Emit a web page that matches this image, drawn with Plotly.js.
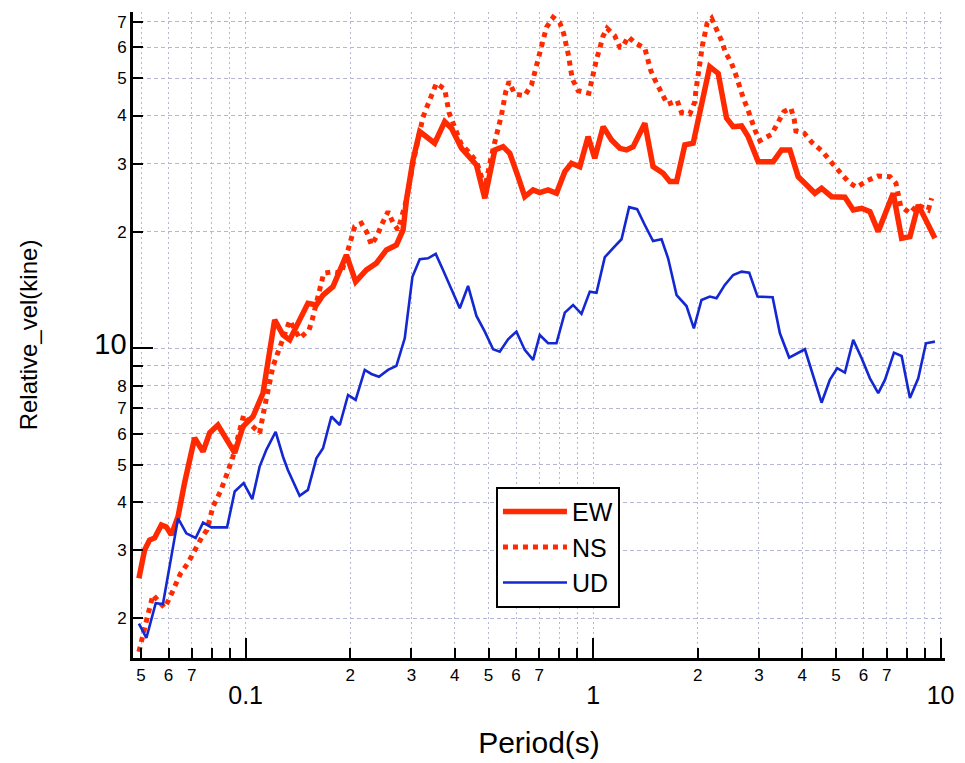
<!DOCTYPE html>
<html><head><meta charset="utf-8">
<script src="https://cdn.plot.ly/plotly-3.0.1.min.js"></script>
<style>html,body{margin:0;padding:0;background:#fff}#chart{width:965px;height:763px}</style>
</head><body><div id="chart"></div>
<script>
const ewPeriod=[0.0493,0.0512,0.0529,0.0547,0.0572,0.0591,0.0611,0.0639,0.0667,0.0698,0.0713,0.0754,0.0788,0.0832,0.0880,0.0930,0.0982,0.1050,0.1122,0.1212,0.1281,0.1339,0.1430,0.1511,0.1598,0.1670,0.1784,0.1950,0.2073,0.2226,0.2377,0.2542,0.2716,0.2838,0.2903,0.3032,0.3170,0.3314,0.3500,0.3741,0.3912,0.4180,0.4367,0.4616,0.4879,0.5212,0.5508,0.5756,0.6082,0.6358,0.6720,0.7024,0.7421,0.7845,0.8290,0.8665,0.9156,0.9674,1.011,1.069,1.130,1.194,1.248,1.304,1.409,1.488,1.591,1.663,1.739,1.837,1.941,2.166,2.291,2.422,2.530,2.675,2.795,2.987,3.298,3.487,3.685,3.893,4.117,4.349,4.546,4.858,5.306,5.607,5.928,6.263,6.617,7.308,7.727,8.164,8.627,9.120,9.636];
const ewVel=[2.54,3.01,3.19,3.23,3.49,3.45,3.29,3.67,4.48,5.46,5.86,5.40,6.04,6.33,5.86,5.36,6.27,6.66,7.66,11.84,10.82,10.51,11.84,13.07,12.94,13.73,14.43,17.43,14.87,15.94,16.59,17.96,18.50,20.23,24.19,30.69,36.34,35.27,33.91,38.56,37.08,32.9,31.62,29.79,24.43,32.58,33.23,31.94,27.79,24.66,25.67,25.26,25.67,25.18,28.63,30.09,29.49,35.27,31.01,37.43,34.56,32.9,32.58,33.23,38.19,29.49,28.36,26.98,26.98,33.57,33.91,53.5,51.4,39.36,37.43,37.58,35.27,30.39,30.39,32.58,32.58,27.79,26.45,25.17,25.94,24.66,24.58,22.79,23.02,22.56,20.03,25.17,19.26,19.44,23.49,21.05,19.26];

const nsPeriod=[0.0493,0.0501,0.0512,0.0520,0.0541,0.0585,0.0607,0.0629,0.0649,0.0682,0.0713,0.0746,0.0774,0.0805,0.0846,0.0870,0.0889,0.0919,0.0950,0.0987,0.1038,0.1097,0.1127,0.1147,0.1159,0.1178,0.1198,0.1231,0.1267,0.1339,0.1430,0.1522,0.1556,0.1644,0.1678,0.1784,0.1886,0.2015,0.2060,0.2153,0.2235,0.2301,0.2387,0.2468,0.2569,0.2655,0.2745,0.2903,0.2986,0.3032,0.3133,0.3239,0.3327,0.3425,0.3540,0.3741,0.3798,0.3849,0.418,0.437,0.462,0.488,0.510,0.5271,0.5449,0.5606,0.5730,0.5949,0.6358,0.6647,0.6796,0.6946,0.7057,0.7211,0.7342,0.7670,0.8019,0.8234,0.8384,0.8511,0.8607,0.8723,0.9053,0.9719,0.9894,1.0046,1.0228,1.0454,1.0685,1.0972,1.1548,1.1939,1.2155,1.2614,1.3183,1.409,1.431,1.466,1.515,1.584,1.637,1.746,1.797,1.899,1.963,1.976,1.993,2.020,2.038,2.065,2.097,2.129,2.193,2.275,2.343,2.406,2.503,2.576,2.633,2.704,2.784,2.846,2.936,3.020,3.264,3.396,3.540,3.709,3.791,3.834,4.051,4.272,4.577,4.878,5.167,5.459,5.734,6.150,6.617,7.150,7.440,7.554,7.675,8.164,8.590,9.218,9.428];
const nsVel=[1.64,1.76,1.91,2.00,2.30,2.13,2.28,2.44,2.61,2.78,3.01,3.23,3.39,3.89,4.26,4.52,4.80,5.24,5.91,6.72,6.33,6.03,6.85,7.35,7.88,8.44,8.96,9.61,10.30,11.79,10.61,11.15,11.89,14.58,15.63,15.78,15.63,19.26,20.64,21.05,19.91,18.50,19.52,20.97,22.56,21.13,20.23,24.19,28.07,30.09,34.56,39.58,42.16,45.20,48.47,46.77,43.71,40.68,33.6,32.3,30.4,26.0,31.5,35.27,40.13,46.09,48.94,45.47,45.01,47.98,51.62,55.11,58.86,63.00,67.65,71.80,69.55,65.01,60.87,56.78,53.0,49.63,46.37,45.66,48.94,52.24,55.91,59.70,64.24,67.23,64.24,60.06,60.06,63.97,61.72,59.70,55.91,52.24,48.94,45.66,42.77,43.71,40.68,40.37,43.44,46.37,49.43,53.0,56.78,60.87,64.89,69.30,71.37,66.58,62.46,58.16,54.60,50.93,47.71,44.49,41.59,38.95,36.34,34.43,35.76,38.19,40.93,41.77,39.11,36.49,35.99,34.02,32.25,30.09,28.36,26.81,26.09,27.14,27.91,27.79,26.72,24.92,23.34,22.35,23.49,22.79,24.43];

const udPeriod=[0.0493,0.0518,0.0551,0.0578,0.0639,0.0675,0.0718,0.0754,0.0797,0.0884,0.0930,0.0987,0.1045,0.1097,0.1147,0.1220,0.1281,0.1323,0.1430,0.1511,0.1598,0.1670,0.1765,0.1866,0.1971,0.2073,0.2202,0.2301,0.2419,0.2569,0.2716,0.2870,0.3020,0.3170,0.3349,0.3525,0.3699,0.3912,0.4133,0.4367,0.4616,0.4879,0.5155,0.5387,0.5692,0.6017,0.6358,0.6720,0.7024,0.7421,0.7845,0.8290,0.8758,0.9260,0.9784,1.0228,1.0806,1.1417,1.2073,1.2698,1.3389,1.409,1.488,1.574,1.644,1.739,1.857,1.950,2.051,2.168,2.266,2.394,2.530,2.675,2.814,2.974,3.286,3.449,3.667,4.070,4.300,4.546,4.802,5.042,5.306,5.607,5.928,6.263,6.617,6.918,7.343,7.727,8.164,8.627,9.078,9.636];
const udVel=[1.94,1.78,2.19,2.18,3.63,3.32,3.23,3.54,3.44,3.44,4.26,4.48,4.07,4.94,5.46,6.08,5.24,4.84,4.15,4.30,5.19,5.51,6.66,6.33,7.57,7.35,8.79,8.58,8.44,8.79,9.00,10.61,15.31,16.99,17.09,17.54,15.94,14.15,12.69,14.49,12.12,11.04,9.94,9.80,10.55,11.04,9.90,9.33,10.82,10.30,10.30,12.36,12.94,12.27,14.01,13.92,17.20,18.15,19.14,23.17,22.89,20.84,18.94,19.14,17.09,13.73,12.86,11.26,13.33,13.60,13.47,14.58,15.47,15.78,15.69,13.60,13.55,10.93,9.46,9.94,8.53,7.23,8.28,8.88,8.65,10.51,9.42,8.36,7.65,8.28,9.74,9.55,7.43,8.36,10.30,10.40];

const xTickVals=[0.05,0.06,0.07,0.08,0.09,0.1,0.2,0.3,0.4,0.5,0.6,0.7,0.8,0.9,1,2,3,4,5,6,7,8,9,10];
const xTickText=["5","6","7","","","0.1","2","3","4","5","6","7","","","1","2","3","4","5","6","7","","","10"];
const xMajorVals=[0.1,1,10];
const yTickVals=[2,3,4,5,6,7,8,9,10,20,30,40,50,60,70];
const yTickText=["2","3","4","5","6","7","8","","10","2","3","4","5","6","7"];
const yMajorVals=[10];
const seriesNames=["EW","NS","UD"];

const RED="#ff2a00", BLUE="#1428d2", GRID="#b4b6d4";
const FONT="Liberation Sans, Arial, sans-serif";
const xText=xTickText.map((t,i)=>xMajorVals.includes(xTickVals[i])?"<br><span style='font-size:25px'>"+t+"</span>":t);
const yText=yTickText.map((t,i)=>yMajorVals.includes(yTickVals[i])?"<span style='font-size:29px'>"+t+"</span>":t);
const xr=[Math.log10(0.0474),Math.log10(10.3)];
const yr=[Math.log10(1.58),Math.log10(74.1)];

const traces=[
 {x:ewPeriod,y:ewVel,name:seriesNames[0],mode:"lines",line:{color:RED,width:5.5}},
 {x:nsPeriod,y:nsVel,name:seriesNames[1],mode:"lines",line:{color:RED,width:5,dash:"dot"}},
 {x:udPeriod,y:udVel,name:seriesNames[2],mode:"lines",line:{color:BLUE,width:2.6},xaxis:"x2",yaxis:"y2"}
];
const layout={
 width:965,height:763,margin:{l:133,r:20,t:12,b:105},
 paper_bgcolor:"#fff",plot_bgcolor:"#fff",
 font:{family:FONT,color:"#000"},
 showlegend:true,hovermode:false,
 xaxis:{type:"log",range:xr,tickmode:"array",tickvals:xTickVals,ticktext:xText,ticks:"inside",ticklen:10,tickwidth:2,tickcolor:"#000",
   showline:true,linewidth:3,linecolor:"#000",mirror:false,showgrid:true,gridcolor:GRID,gridwidth:1,griddash:"2px,3px",zeroline:false,
   tickfont:{size:17,family:FONT},title:{text:"Period(s)",font:{size:30,family:FONT},standoff:25}},
 yaxis:{type:"log",range:yr,tickmode:"array",tickvals:yTickVals,ticktext:yText,ticks:"inside",ticklen:10,tickwidth:2,tickcolor:"#000",
   showline:true,linewidth:3,linecolor:"#000",showgrid:true,gridcolor:GRID,gridwidth:1,griddash:"4px,3px",zeroline:false,
   tickfont:{size:17,family:FONT},title:{text:"Relative_vel(kine)",font:{size:24,family:FONT},standoff:50}},
 xaxis2:{type:"log",range:xr,overlaying:"x",anchor:"y2",side:"bottom",tickmode:"array",tickvals:xMajorVals,ticks:"inside",ticklen:20,tickwidth:2,tickcolor:"#000",
   showticklabels:false,showgrid:false,showline:false,zeroline:false},
 yaxis2:{type:"log",range:yr,overlaying:"y",anchor:"x2",side:"left",tickmode:"array",tickvals:yMajorVals,ticks:"inside",ticklen:20,tickwidth:2,tickcolor:"#000",
   showticklabels:false,showgrid:false,showline:false,zeroline:false},
 legend:{x:0.447,y:0.265,xanchor:"left",yanchor:"top",bgcolor:"#fff",bordercolor:"#000",borderwidth:2,itemwidth:64,font:{size:25,family:FONT}}
};
Plotly.newPlot("chart",traces,layout,{staticPlot:true,displayModeBar:false});
</script></body></html>
